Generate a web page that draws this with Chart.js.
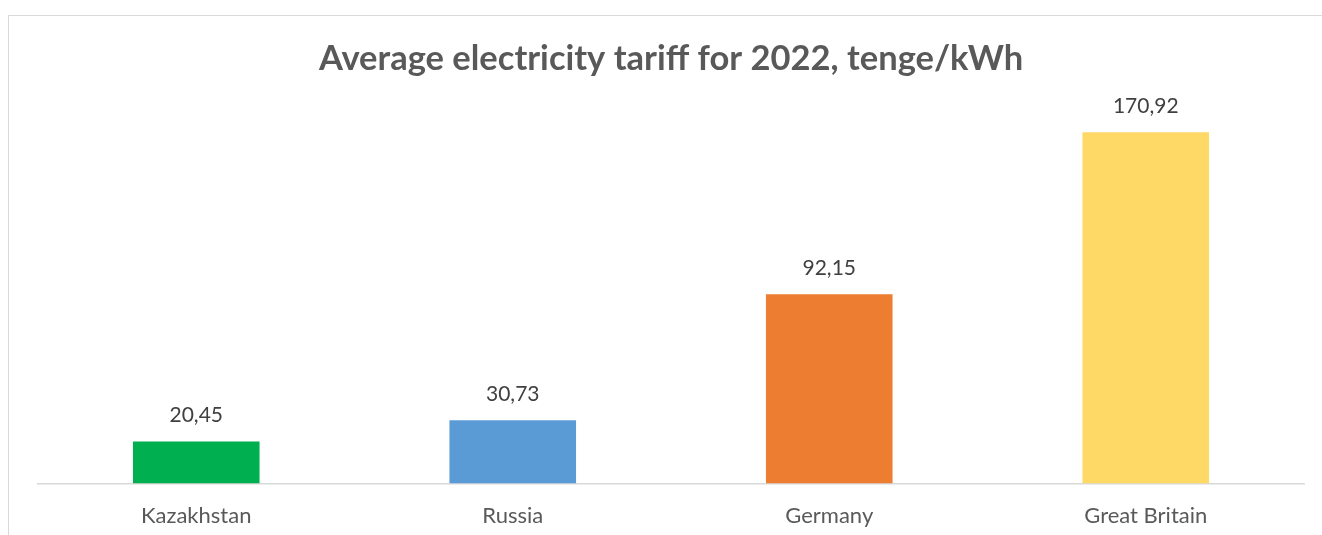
<!DOCTYPE html>
<html>
<head>
<meta charset="utf-8">
<script src="https://cdn.jsdelivr.net/npm/chart.js@4/dist/chart.umd.min.js"></script>
<style>
  html, body { margin: 0; padding: 0; background: #fff; overflow: hidden; }
  .frame {
    position: absolute; left: 8px; top: 15px; width: 1400px; height: 600px;
    border: 1px solid #d9d9d9; box-sizing: border-box;
  }
  .chart-box { position: absolute; left: 0; top: 0; width: 1322px; height: 535px; }
</style>
</head>
<body>
<div class="frame"></div>
<div class="chart-box"><canvas id="chart"></canvas></div>
<script>
const countries = ['Kazakhstan', 'Russia', 'Germany', 'Great Britain'];
const tariffs = [20.45, 30.73, 92.15, 170.92];
const barColors = ['#00B050', '#5B9BD5', '#ED7D31', '#FFD966'];

const FONT = 'Lato, "Open Sans", sans-serif';

// value labels above each bar, decimal comma
const valueLabels = {
  id: 'valueLabels',
  afterDatasetsDraw(chart) {
    const { ctx } = chart;
    const meta = chart.getDatasetMeta(0);
    ctx.save();
    ctx.font = '21px ' + FONT;
    ctx.fillStyle = '#404040';
    ctx.textAlign = 'center';
    ctx.textBaseline = 'middle';
    meta.data.forEach((bar, i) => {
      const txt = tariffs[i].toFixed(2).replace('.', ',');
      ctx.fillText(txt, bar.x, bar.y - 26);
    });
    ctx.restore();
  }
};

new Chart(document.getElementById('chart').getContext('2d'), {
  type: 'bar',
  data: {
    labels: countries,
    datasets: [{
      data: tariffs,
      backgroundColor: barColors,
      categoryPercentage: 1,
      barPercentage: 0.4
    }]
  },
  options: {
    responsive: true,
    maintainAspectRatio: false,
    animation: false,
    layout: { padding: { left: 38, right: 18, top: 0, bottom: -14.4 } },
    plugins: {
      legend: { display: false },
      tooltip: { enabled: false },
      title: {
        display: true,
        text: 'Average electricity tariff for 2022, tenge/kWh',
        color: '#595959',
        font: { family: FONT, size: 34.5, weight: 'bold', lineHeight: 1.2 },
        padding: { top: 38.3, bottom: 34 }
      }
    },
    scales: {
      x: {
        grid: { display: false, drawTicks: false },
        border: { display: true, color: '#d9d9d9', width: 1.5 },
        ticks: { color: '#595959', padding: 19.8, font: { family: FONT, size: 22, lineHeight: 1.2 } }
      },
      y: { display: false, min: 0, max: 180 }
    }
  },
  plugins: [valueLabels]
});
</script>
</body>
</html>
